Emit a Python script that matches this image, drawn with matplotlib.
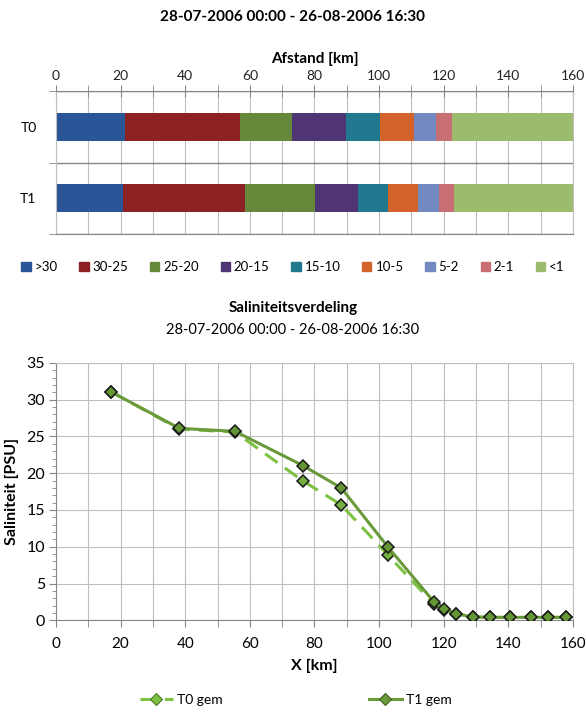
import matplotlib.pyplot as plt
from matplotlib.lines import Line2D
from matplotlib.patches import Patch
import numpy as np

plt.rcParams['font.family'] = ['Lato', 'DejaVu Sans']

# top chart: length (km) of each salinity class along the estuary
klassen = ['>30', '30-25', '25-20', '20-15', '15-10', '10-5', '5-2', '2-1', '<1']
kleuren = ['#2A5597', '#8C2224', '#66883A', '#503574', '#21798F', '#D3632A', '#7289C1', '#C76F72', '#9CBC6D']
tijdstappen = ['T0', 'T1']
lengte_T0 = [21.5, 35.3, 16.1, 16.8, 10.6, 10.5, 6.7, 5.1, 37.4]
lengte_T1 = [20.8, 37.6, 21.8, 13.4, 9.1, 9.5, 6.3, 4.6, 36.9]

# bottom chart: mean salinity along the estuary
x_km = [16.9, 38.2, 55.4, 76.6, 88.3, 102.7, 117.0, 120.2, 123.8, 129.1, 134.3, 140.6, 146.9, 152.3, 157.9]
T0_gem = [31.1, 26.0, 25.6, 18.9, 15.7, 8.9, 2.2, 1.4, 0.9, 0.45, 0.4, 0.4, 0.4, 0.4, 0.4]
T1_gem = [31.1, 26.1, 25.7, 21.0, 18.0, 10.0, 2.5, 1.5, 0.9, 0.45, 0.4, 0.4, 0.4, 0.4, 0.4]

titel = '28-07-2006 00:00 - 26-08-2006 16:30'
grid_c = '#BFBFBF'
axis_c = '#868686'

fig = plt.figure(figsize=(5.86, 7.13), dpi=100)

# ---- top: stacked horizontal bars
ax1 = fig.add_axes([0.0956, 0.672, 0.882, 0.200])
lengtes = [lengte_T0, lengte_T1]
for j, tijd in enumerate(tijdstappen):
    left = 0
    for k in range(len(klassen)):
        ax1.barh(j, lengtes[j][k], left=left, height=0.4, color=kleuren[k])
        left += lengtes[j][k]
ax1.set_ylim(1.5, -0.5)
ax1.set_xlim(0, 160)
ax1.xaxis.tick_top()
ax1.xaxis.set_label_position('top')
ax1.set_xticks(np.arange(0, 161, 20))
ax1.set_xticks(np.arange(10, 160, 20), minor=True)
ax1.tick_params(axis='x', which='both', direction='inout', length=8, color=axis_c,
                labelsize=10, pad=3, labelcolor='#222222')
ax1.set_xlabel('Afstand [km]', fontsize=11, fontweight='bold', labelpad=5)
ax1.set_yticks([0, 1])
ax1.set_yticklabels(tijdstappen, fontsize=10)
ax1.set_yticks([-0.5, 0.5, 1.5], minor=True)
ax1.tick_params(axis='y', which='major', length=0, pad=14)
ax1.tick_params(axis='y', which='minor', length=5, color=axis_c)
ax1.grid(axis='x', which='both', color=grid_c, lw=0.8)
ax1.grid(axis='y', which='minor', color=axis_c, lw=1.0)
ax1.set_axisbelow(True)
for s in ax1.spines.values():
    s.set_color(grid_c)
ax1.spines['bottom'].set_color(axis_c)
ax1.spines['top'].set_color(axis_c)

handles = [Patch(color=c) for c in kleuren]
fig.legend(handles, klassen, loc='center', bbox_to_anchor=(0.5, 1 - 267 / 713), ncol=9,
           frameon=False, fontsize=9.5, handlelength=0.7, handleheight=0.7,
           handletextpad=0.3, columnspacing=1.65)

fig.text(0.5, 1 - 17 / 713, titel, ha='center', va='center', fontsize=11, fontweight='bold')

# ---- bottom: salinity lines
ax2 = fig.add_axes([0.0956, 0.130, 0.882, 0.361])
ax2.plot(x_km, T0_gem, ls=(0, (5, 3)), color='#7CC142', lw=2.2, marker='D', ms=6,
         mfc='#72AE40', mec='#1A1A1A', mew=1.1, label='T0 gem', zorder=3)
ax2.plot(x_km, T1_gem, ls='-', color='#6A9A3A', lw=2.2, marker='D', ms=6,
         mfc='#659636', mec='#1A1A1A', mew=1.1, label='T1 gem', zorder=4)
ax2.set_xlim(0, 160)
ax2.set_ylim(0, 35)
ax2.set_xticks(np.arange(0, 161, 20))
ax2.set_xticks(np.arange(10, 160, 20), minor=True)
ax2.set_yticks(np.arange(0, 36, 5))
ax2.set_yticks(np.arange(0, 36, 1), minor=True)
ax2.tick_params(axis='x', which='both', length=5, color=axis_c, labelsize=11, pad=7)
ax2.tick_params(axis='y', which='major', length=5, color=axis_c, labelsize=11.5, pad=3)
ax2.tick_params(axis='y', which='minor', length=3, color=axis_c)
ax2.grid(axis='x', which='both', color=grid_c, lw=0.8)
ax2.grid(axis='y', which='major', color=grid_c, lw=0.8)
ax2.set_axisbelow(True)
for s in ax2.spines.values():
    s.set_color(grid_c)
ax2.spines['left'].set_color(axis_c)
ax2.spines['bottom'].set_color(axis_c)
ax2.set_xlabel('X [km]', fontsize=11.5, fontweight='bold', labelpad=6)
ax2.set_ylabel('Saliniteit [PSU]', fontsize=11.5, fontweight='bold', labelpad=5)

fig.text(0.5, 1 - 308 / 713, 'Saliniteitsverdeling', ha='center', va='center',
         fontsize=11, fontweight='bold')
fig.text(0.5, 1 - 330 / 713, titel, ha='center', va='center', fontsize=10.5)

h0 = Line2D([], [], ls=(0, (5, 3)), color='#7CC142', lw=2.2, marker='D', ms=6,
            mfc='#7CC142', mec='#4E7A2A', mew=0.8)
h1 = Line2D([], [], ls='-', color='#6A9A3A', lw=2.2, marker='D', ms=6,
            mfc='#6A9A3A', mec='#3E6020', mew=0.8)
fig.legend([h0, h1], ['T0 gem', 'T1 gem'], loc='center', bbox_to_anchor=(0.505, 1 - 700 / 713),
           ncol=2, frameon=False, fontsize=10, handlelength=2.4, handletextpad=0.3,
           columnspacing=10.5)

fig.savefig('out.png', dpi=100)
